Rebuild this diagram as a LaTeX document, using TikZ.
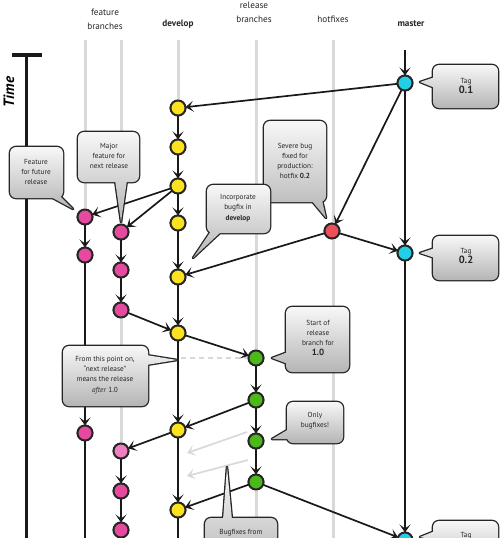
\documentclass[tikz,border=0pt]{standalone}
\usepackage{fontspec}
\setmainfont{PT Sans}
\usetikzlibrary{arrows.meta}
\definecolor{cyel}{HTML}{FAE31E}
\definecolor{cpink}{HTML}{E64A9E}
\definecolor{cpinkl}{HTML}{EE7FC0}
\definecolor{ccyan}{HTML}{22CFE6}
\definecolor{cred}{HTML}{EE4D5A}
\definecolor{cgreen}{HTML}{4CB81A}
\definecolor{lanegray}{HTML}{D9D9D9}
\definecolor{cbtop}{HTML}{F7F7F7}
\definecolor{cbbot}{HTML}{B5B5B5}
\tikzset{
  commit/.style={circle, draw=black!85, line width=1.9pt, minimum size=15pt, inner sep=0pt, outer sep=0pt},
  yel/.style={commit, fill=cyel},
  pink/.style={commit, fill=cpink},
  pinkl/.style={commit, fill=cpinkl},
  cyan/.style={commit, fill=ccyan},
  redc/.style={commit, fill=cred},
  grn/.style={commit, fill=cgreen},
  arr/.style={line width=1.7pt, draw=black!90, -{Stealth[length=8pt,width=11pt,inset=4pt]}},
  plain/.style={line width=1.7pt, draw=black!90},
  lane/.style={line width=3pt, draw=lanegray},
  garr/.style={line width=1.7pt, draw=lanegray, -{Stealth[length=8pt,width=11pt,inset=4pt]}},
  hdr/.style={font=\fontsize{9.2}{10}\selectfont, text=black!85, inner sep=0pt},
  ctext/.style={font=\fontsize{7.3}{10.3}\selectfont, align=center, text=black!85, inner sep=0pt},
}
\newcommand{\callbox}[5]{%
  \draw[rounded corners=6pt, line width=2.6pt, line join=round, draw=black!85]
    (#1,#2) -- (#3,#2) -- (#3,#4) -- (#1,#4) -- cycle [sharp corners] #5 -- cycle;
  \shade[rounded corners=6pt, top color=cbtop, bottom color=cbbot]
    (#1,#2) -- (#3,#2) -- (#3,#4) -- (#1,#4) -- cycle [sharp corners] #5 -- cycle;
}
\begin{document}
\begin{tikzpicture}[x=1pt,y=-1pt]
\useasboundingbox (0,0) rectangle (500,538);
\fill[white] (0,0) rectangle (500,538);

% headers
\node[hdr] (hf1) at (105,12) {feature};
\node[hdr] (hf2) at (105,26) {branches};
\node[hdr] (hdev) at (178,24) {\textbf{develop}};
\node[hdr] (hr1) at (254,5) {release};
\node[hdr] (hr2) at (254,19) {branches};
\node[hdr] (hh) at (333,19) {hotfixes};
\node[hdr] (hm) at (411,24) {\textbf{master}};

% time axis
\coordinate (tt) at (26,55);
\coordinate (tb) at (26,545);
\coordinate (tl) at (12,55);
\coordinate (tr) at (42,55);
\draw[line width=3pt, black!90] (tt) -- (tb);
\draw[line width=4pt, black!90] (tl) -- (tr);
\node[rotate=90, font=\fontsize{15}{15}\selectfont\bfseries\itshape, inner sep=0pt] (time) at (9,92) {Time};

% commits
\node[yel] (D1) at (178,108) {};
\node[yel] (D2) at (178,147) {};
\node[yel] (D3) at (178,186) {};
\node[yel] (D4) at (178,223) {};
\node[yel] (D5) at (178,277) {};
\node[yel] (D6) at (178,333) {};
\node[yel] (D7) at (178,430) {};
\node[yel] (D8) at (178,510) {};
\node[pink] (F1a) at (85,217) {};
\node[pink] (F1b) at (85,255) {};
\node[pink] (F1c) at (85,433) {};
\node[pink] (F2a) at (121,232) {};
\node[pink] (F2b) at (121,270) {};
\node[pink] (F2c) at (121,310) {};
\node[pinkl] (F2d) at (121,451) {};
\node[pink] (F2e) at (121,491) {};
\node[pink] (F2f) at (121,530) {};
\node[redc] (H) at (332,231) {};
\node[cyan] (M1) at (405,83) {};
\node[cyan] (M2) at (405,253) {};
\node[cyan] (M3) at (405,540) {};
\node[grn] (R1) at (256,358) {};
\node[grn] (R2) at (256,400) {};
\node[grn] (R3) at (256,441) {};
\node[grn] (R4) at (256,482) {};

% free coordinates
\coordinate (l1) at (85,40);
\coordinate (l2) at (121,40);
\coordinate (l3) at (178,40);
\coordinate (l4) at (256,40);
\coordinate (l4b) at (256,545);
\coordinate (l5) at (333,40);
\coordinate (l5b) at (333,545);
\coordinate (mtop) at (405,50);
\coordinate (f1end) at (85,545);
\coordinate (dend) at (178,545);
\coordinate (dsh) at (181,358);
\coordinate (g1s) at (247,432);
\coordinate (g1e) at (187,453);
\coordinate (g2s) at (248,460);
\coordinate (g2e) at (187,476);

% lanes
\draw[lane] (l1) -- (F1a);
\draw[lane] (l2) -- (F2a);
\draw[lane] (F2c) -- (F2d);
\draw[lane] (l3) -- (D1);
\draw[lane] (l4) -- (R1);
\draw[lane] (R4) -- (l4b);
\draw[lane] (l5) -- (l5b);
\draw[lane, line width=1.4pt, dash pattern=on 5pt off 4pt] (dsh) -- (R1);
\draw[garr] (g1s) -- (g1e);
\draw[garr] (g2s) -- (g2e);

% edges
\draw[arr] (mtop) -- (M1);
\draw[arr] (M1) -- (D1);
\draw[arr] (D1) -- (D2);
\draw[arr] (D2) -- (D3);
\draw[arr] (D3) -- (D4);
\draw[arr] (D4) -- (D5);
\draw[arr] (D5) -- (D6);
\draw[arr] (D6) -- (D7);
\draw[arr] (D7) -- (D8);
\draw[plain] (D8) -- (dend);
\draw[arr] (D3) -- (F1a);
\draw[arr] (D3) -- (F2a);
\draw[arr] (F1a) -- (F1b);
\draw[arr] (F1b) -- (F1c);
\draw[plain] (F1c) -- (f1end);
\draw[arr] (F2a) -- (F2b);
\draw[arr] (F2b) -- (F2c);
\draw[arr] (F2c) -- (D6);
\draw[arr] (M1) -- (H);
\draw[arr] (M1) -- (M2);
\draw[arr] (H) -- (M2);
\draw[arr] (H) -- (D5);
\draw[arr] (M2) -- (M3);
\draw[arr] (D6) -- (R1);
\draw[arr] (R1) -- (R2);
\draw[arr] (R2) -- (R3);
\draw[arr] (R3) -- (R4);
\draw[arr] (R2) -- (D7);
\draw[arr] (R4) -- (D8);
\draw[arr] (R4) -- (M3);
\draw[arr] (D7) -- (F2d);
\draw[arr] (F2d) -- (F2e);
\draw[arr] (F2e) -- (F2f);

% redraw commits on top
\foreach \n/\s in {D1/yel,D2/yel,D3/yel,D4/yel,D5/yel,D6/yel,D7/yel,D8/yel,
  F1a/pink,F1b/pink,F1c/pink,F2a/pink,F2b/pink,F2c/pink,F2d/pinkl,F2e/pink,F2f/pink,
  H/redc,M1/cyan,M2/cyan,M3/cyan,R1/grn,R2/grn,R3/grn,R4/grn}
  \node[\s] at (\n) {};

% callouts
\callbox{433}{65}{498}{108}{(435,88) -- (420,82) -- (435,77)}
\node[ctext] (c1) at (466,86) {Tag\\[-1pt]{\fontsize{10.5}{12}\selectfont\bfseries 0.1}};

\callbox{10}{147}{63}{198}{(60,196) -- (73,209) -- (49,196)}
\node[ctext] (c2) at (36,172) {Feature\\for future\\release};

\callbox{78}{132}{139}{182}{(127,180) -- (121,222) -- (115,180)}
\node[ctext] (c3) at (109,156) {Major\\feature for\\next release};

\callbox{264}{121}{326}{202}{(322,200) -- (326,218) -- (311,200)}
\node[ctext] (c4) at (295,161) {Severe bug\\fixed for\\production:\\hotfix \textbf{0.2}};

\callbox{207}{185}{270}{233}{(222,231) -- (193,258) -- (211,231)}
\node[ctext] (c5) at (238,208) {Incorporate\\bugfix in\\\textbf{develop}};

\callbox{433}{236}{498}{280}{(435,258) -- (420,253) -- (435,248)}
\node[ctext] (c6) at (466,256) {Tag\\[-1pt]{\fontsize{10.5}{12}\selectfont\bfseries 0.2}};

\callbox{286}{307}{349}{372}{(288,364) -- (272,358) -- (288,352)}
\node[ctext] (c7) at (318,338) {Start of\\release\\branch for\\{\fontsize{9}{10}\selectfont\bfseries 1.0}};

\callbox{63}{346}{148}{406}{(146,355) -- (177,360) -- (146,365)}
\node[ctext] (c8) at (105,375) {From this point on,\\“next release”\\means the release\\\textit{after} 1.0};

\callbox{287}{402}{343}{443}{(289,439) -- (272,439) -- (289,429)}
\node[ctext] (c9) at (315,421) {Only\\bugfixes!};

\callbox{205}{518}{277}{570}{(223,520) -- (227,467) -- (232,520)}
\node[ctext, anchor=base] (c10) at (241,534) {Bugfixes from};

\callbox{433}{521}{498}{570}{(435,540) -- (420,537) -- (435,531)}
\node[ctext, anchor=base] (c11) at (466,537) {Tag};
\end{tikzpicture}
\end{document}
